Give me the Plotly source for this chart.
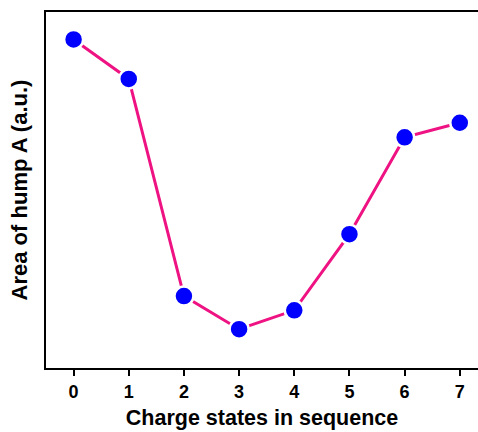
import plotly.graph_objects as go

charge_states = [0, 1, 2, 3, 4, 5, 6, 7]
hump_area = [9.23, 8.12, 2.02, 1.09, 1.62, 3.76, 6.48, 6.89]
tick_labels = ["0", "1", "2", "3", "4", "5", "6", "7"]

fig = go.Figure()
fig.add_trace(go.Scatter(
    x=charge_states, y=hump_area, mode="lines+markers",
    line=dict(color="#EE1282", width=3),
    marker=dict(color="#0000FF", size=19, line=dict(color="white", width=2.5)),
    showlegend=False, cliponaxis=False,
))

font_family = "Liberation Sans, Arial, sans-serif"
fig.update_layout(
    width=478, height=432,
    margin=dict(l=46, r=0, t=12, b=64),
    plot_bgcolor="white", paper_bgcolor="white",
    font=dict(family=font_family, color="black"),
    xaxis=dict(
        range=[-0.5, 7.33], tickvals=charge_states, ticktext=tick_labels,
        showline=True, linecolor="black", linewidth=2, mirror=True,
        ticks="outside", ticklen=6, tickwidth=2, tickcolor="black",
        showgrid=False, zeroline=False,
        tickfont=dict(size=18, weight="bold", family=font_family),
        title=dict(text="Charge states in sequence", standoff=9,
                   font=dict(size=21.5, weight="bold", family=font_family)),
    ),
    yaxis=dict(
        range=[0, 10], showticklabels=False, ticks="",
        showline=True, linecolor="black", linewidth=2, mirror=False,
        showgrid=False, zeroline=False,
        title=dict(text="Area of hump A (a.u.)", standoff=10,
                   font=dict(size=22, weight="bold", family=font_family)),
    ),
)
fig.write_html("out.html")
